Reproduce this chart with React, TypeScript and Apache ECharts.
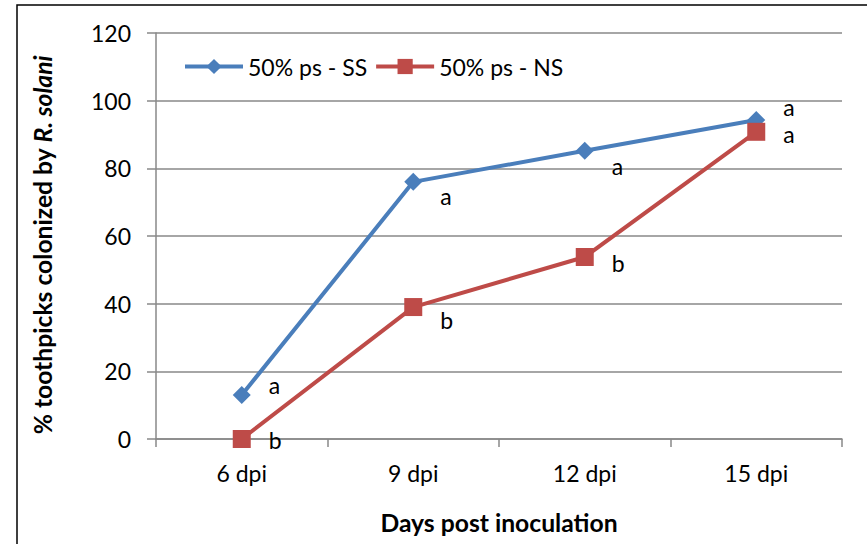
import React, { useEffect, useRef } from "react";
import * as echarts from "echarts";

const categories = ["6 dpi", "9 dpi", "12 dpi", "15 dpi"];
const ssValues = [13, 76, 85.2, 94.3];
const nsValues = [0, 39, 53.8, 90.8];
const ssLetters = ["a", "a", "a", "a"];
const nsLetters = ["b", "b", "b", "a"];
const yTicks = [0, 20, 40, 60, 80, 100, 120];

const ssOffsets = [[13, -10], [13, 14], [13, 15], [13, -13]];
const nsOffsets = [[13, 1], [13, 13], [13, 6], [13, 2]];

const FONT = "Lato, 'Open Sans', sans-serif";
const BLUE = "#4A7EBB";
const RED = "#BE4B48";
const GRID = "#888888";
const FS = 23;
const TFS = 24.7;

export default function App() {
  const ref = useRef<HTMLDivElement>(null);
  useEffect(() => {
    if (!ref.current) return;
    const chart = echarts.init(ref.current, null, { renderer: "svg" });
    const mk = (vals: number[], letters: string[], offs: number[][]) =>
      vals.map((v, i) => ({
        value: v,
        label: {
          show: true,
          position: "right",
          offset: offs[i],
          formatter: letters[i],
          color: "#000",
          fontSize: FS,
          fontFamily: FONT,
        },
      }));
    chart.setOption({
      animation: false,
      backgroundColor: "#fff",
      textStyle: { fontFamily: FONT },
      grid: { left: 156, right: 25, top: 33, bottom: 105, containLabel: false },
      legend: {
        left: 183,
        top: 55,
        padding: 0,
        itemWidth: 58,
        itemHeight: 19,
        itemGap: 7,
        lineStyle: { width: 4 },
        textStyle: { fontSize: FS, fontFamily: FONT, color: "#000" },
        data: ["50% ps - SS", "50% ps - NS"],
      },
      xAxis: {
        type: "category",
        data: categories,
        boundaryGap: true,
        axisLine: { lineStyle: { color: GRID, width: 1.5 } },
        axisTick: { show: true, length: 8, lineStyle: { color: GRID, width: 1.5 } },
        axisLabel: { fontSize: FS, color: "#000", margin: 22, fontFamily: FONT },
        name: "Days post inoculation",
        nameLocation: "middle",
        nameGap: 71,
        nameTextStyle: { fontSize: TFS, fontWeight: "bold", color: "#000", fontFamily: FONT },
      },
      yAxis: {
        type: "value",
        min: yTicks[0],
        max: yTicks[yTicks.length - 1],
        interval: 20,
        axisLine: { show: true, lineStyle: { color: GRID, width: 1.5 } },
        axisTick: { show: true, length: 9, lineStyle: { color: GRID, width: 1.5 } },
        splitLine: { show: true, lineStyle: { color: GRID, width: 1.5 } },
        axisLabel: { fontSize: FS, color: "#000", margin: 25, fontFamily: FONT },
        name: "{b|% toothpicks colonized by }{bi|R. solani}",
        nameLocation: "middle",
        nameGap: 101,
        nameRotate: 90,
        nameTextStyle: {
          padding: [0, 18, 0, 0],
          rich: {
            b: { fontSize: TFS, fontWeight: "bold", color: "#000", fontFamily: FONT },
            bi: { fontSize: TFS, fontWeight: "bold", fontStyle: "italic", color: "#000", fontFamily: FONT },
          },
        },
      },
      series: [
        {
          name: "50% ps - SS",
          type: "line",
          data: mk(ssValues, ssLetters, ssOffsets),
          symbol: "diamond",
          symbolSize: 18,
          itemStyle: { color: BLUE },
          lineStyle: { color: BLUE, width: 4 },
        },
        {
          name: "50% ps - NS",
          type: "line",
          data: mk(nsValues, nsLetters, nsOffsets),
          symbol: "rect",
          symbolSize: 18,
          itemStyle: { color: RED },
          lineStyle: { color: RED, width: 4 },
        },
      ],
      graphic: [
        {
          type: "rect",
          shape: { x: 17, y: 5, width: 900, height: 600 },
          style: { fill: "none", stroke: "#000", lineWidth: 1.5 },
          silent: true,
        },
      ],
    });
    return () => chart.dispose();
  }, []);
  return (
    <div
      ref={ref}
      style={{ position: "absolute", left: 0, top: 0, width: 867, height: 544 }}
    />
  );
}
